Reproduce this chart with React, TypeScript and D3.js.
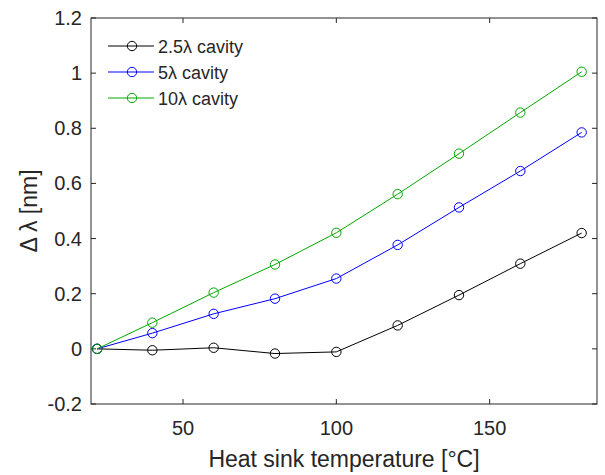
import React from "react";
import * as d3 from "d3";

const temperatures = [22, 40, 60, 80, 100, 120, 140, 160, 180];
const cavity25 = [0, -0.005, 0.004, -0.017, -0.011, 0.085, 0.195, 0.309, 0.42];
const cavity5 = [0, 0.057, 0.127, 0.182, 0.255, 0.377, 0.513, 0.645, 0.785];
const cavity10 = [0, 0.095, 0.204, 0.306, 0.421, 0.561, 0.708, 0.857, 1.005];
const seriesNames = ["2.5\u03bb cavity", "5\u03bb cavity", "10\u03bb cavity"];
const seriesColors = ["#000000", "#0000ff", "#00a800"];
const xTicks = [50, 100, 150];
const xTickLabels = ["50", "100", "150"];
const yTicks = [-0.2, 0, 0.2, 0.4, 0.6, 0.8, 1, 1.2];
const yTickLabels = ["-0.2", "0", "0.2", "0.4", "0.6", "0.8", "1", "1.2"];
const xDomain = [20, 185];
const yDomain = [-0.2, 1.2];

const W = 605;
const H = 475;
const m = { left: 91, right: 597, top: 18, bottom: 404 };
const axisColor = "#262626";
const font = "'Liberation Sans', Arial, Helvetica, sans-serif";

export default function App() {
  const x = d3.scaleLinear().domain(xDomain).range([m.left, m.right]);
  const y = d3.scaleLinear().domain(yDomain).range([m.bottom, m.top]);
  const allSeries = [cavity25, cavity5, cavity10];
  const line = d3
    .line<number>()
    .x((_, i) => x(temperatures[i]))
    .y((d) => y(d));
  const tl = 5;
  const legX = 108;
  const legY0 = 46;
  const legDy = 26;
  return (
    <svg
      width={W}
      height={H}
      style={{ position: "absolute", left: 0, top: 0, background: "#fff" }}
      fontFamily={font}
    >
      <rect x={0} y={0} width={W} height={H} fill="#fff" />
      {allSeries.map((s, si) => (
        <g key={si}>
          <path d={line(s) || ""} fill="none" stroke={seriesColors[si]} strokeWidth={1} />
          {s.map((v, i) => (
            <circle
              key={i}
              cx={x(temperatures[i])}
              cy={y(v)}
              r={4.7}
              fill="none"
              stroke={seriesColors[si]}
              strokeWidth={1}
            />
          ))}
        </g>
      ))}
      <rect
        x={m.left}
        y={m.top}
        width={m.right - m.left}
        height={m.bottom - m.top}
        fill="none"
        stroke={axisColor}
        strokeWidth={1}
      />
      {xTicks.map((t, i) => (
        <g key={i}>
          <line x1={x(t)} x2={x(t)} y1={m.bottom} y2={m.bottom - tl} stroke={axisColor} />
          <line x1={x(t)} x2={x(t)} y1={m.top} y2={m.top + tl} stroke={axisColor} />
          <text x={x(t)} y={435} textAnchor="middle" fontSize={20} fill={axisColor}>
            {xTickLabels[i]}
          </text>
        </g>
      ))}
      {yTicks.map((t, i) => (
        <g key={i}>
          <line x1={m.left} x2={m.left + tl} y1={y(t)} y2={y(t)} stroke={axisColor} />
          <line x1={m.right} x2={m.right - tl} y1={y(t)} y2={y(t)} stroke={axisColor} />
          <text x={82} y={y(t) + 7} textAnchor="end" fontSize={20} fill={axisColor}>
            {yTickLabels[i]}
          </text>
        </g>
      ))}
      <text x={(m.left + m.right) / 2} y={467} textAnchor="middle" fontSize={23} fill={axisColor}>
        Heat sink temperature [°C]
      </text>
      <text
        transform={`translate(37,211) rotate(-90)`}
        textAnchor="middle"
        fontSize={23}
        fill={axisColor}
      >
        {"\u0394 \u03bb [nm]"}
      </text>
      {seriesNames.map((n, i) => (
        <g key={i}>
          <line
            x1={legX}
            x2={legX + 46}
            y1={legY0 + i * legDy}
            y2={legY0 + i * legDy}
            stroke={seriesColors[i]}
          />
          <circle cx={legX + 24} cy={legY0 + i * legDy} r={4.7} fill="none" stroke={seriesColors[i]} />
          <text x={158} y={legY0 + i * legDy + 6.5} fontSize={18} fill={axisColor}>
            {n}
          </text>
        </g>
      ))}
    </svg>
  );
}
